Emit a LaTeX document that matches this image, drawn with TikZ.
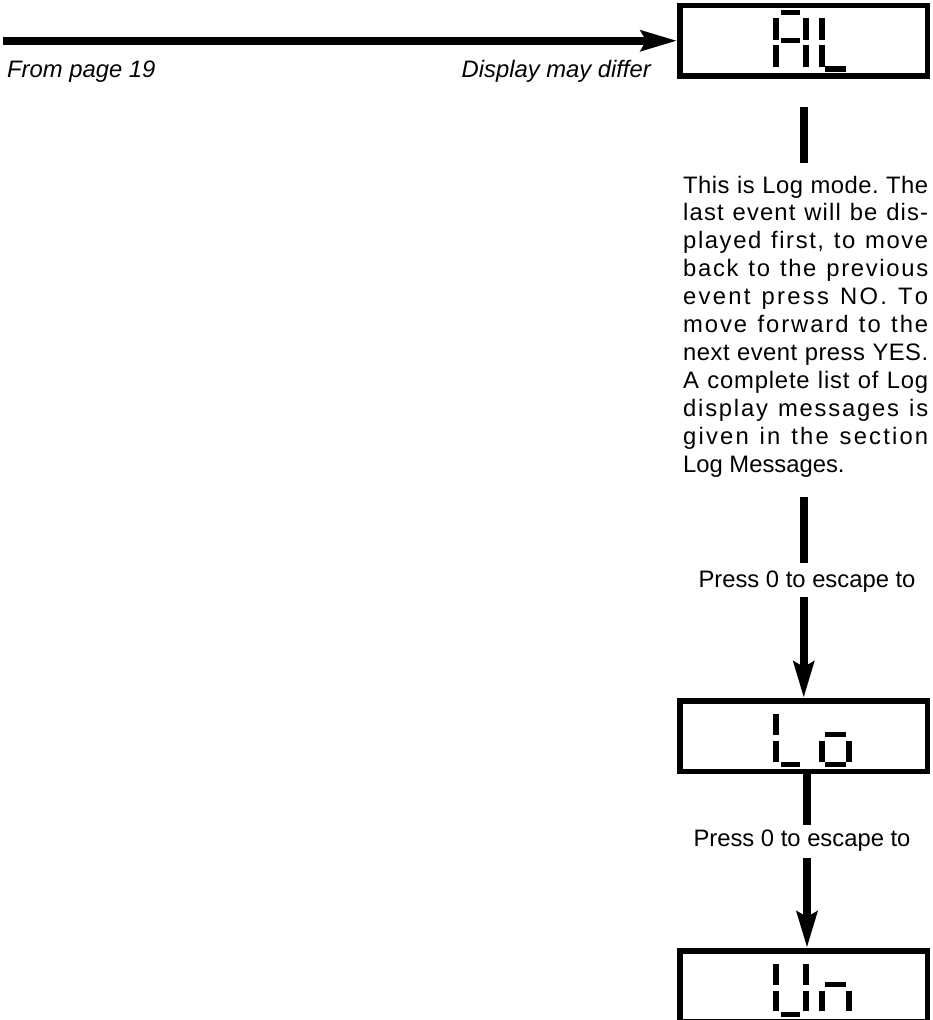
\documentclass[tikz,border=0pt]{standalone}
\usepackage{fontspec}
\setmainfont{Liberation Sans}
\usetikzlibrary{arrows.meta}
% letter tracking for justified text
\newXeTeXintercharclass\trkclass
\count255=33
\loop
  \XeTeXcharclass\count255=\trkclass
  \ifnum\count255<126 \advance\count255 by 1
\repeat
\XeTeXinterchartoks\trkclass\trkclass={\nobreak\hskip 0pt plus 1fil\relax}
\tikzset{
  dispbox/.style={draw, line width=5.5pt, minimum width=247.5pt, minimum height=70.5pt, inner sep=0pt},
  conn/.style={line width=8.5pt},
  arr/.style={line width=8.5pt, -{Stealth[length=36pt,width=20pt,inset=5pt]}},
  lbl/.style={font=\fontsize{23.8}{28}\selectfont, inner sep=0pt},
  ilbl/.style={font=\fontsize{23.8}{28}\selectfont\itshape, inner sep=0pt},
  seg/.style={fill=black},
}
\begin{document}
\begin{tikzpicture}[x=1pt,y=-1pt]
\useasboundingbox (0,0) rectangle (932,1020);
\begin{scope}
\clip (0,0) rectangle (932,1020);
% display boxes
\node[dispbox] (al) at (803.75,40.75) {};
\node[dispbox] (lo) at (803.75,736) {};
\node[dispbox] (un) at (803.75,986) {};
% ---- AL (T = 2.75) ----
\fill[seg] (780.5,10.25) rectangle (800,15.25);   % A top
\fill[seg] (773,18.25) rectangle (778.5,39.75);   % A upper left
\fill[seg] (803,18.25) rectangle (809,39.75);     % A upper right
\fill[seg] (780.5,37.75) rectangle (800,42.75);   % A middle
\fill[seg] (773,45.25) rectangle (778.5,66.75);   % A lower left
\fill[seg] (803,45.25) rectangle (809,66.75);     % A lower right
\fill[seg] (819,18.25) rectangle (824.7,39.75);   % L upper
\fill[seg] (819,45.25) rectangle (824.7,66.75);   % L lower
\fill[seg] (825,66.25) rectangle (846,71.75);     % L bottom
% ---- Lo (T = 698) ----
\fill[seg] (773,713.5) rectangle (778.5,735);     % L upper
\fill[seg] (773,740.5) rectangle (778.5,762);     % L lower
\fill[seg] (780.5,761.5) rectangle (800,767);     % L bottom
\fill[seg] (825,732) rectangle (846,737);         % o top
\fill[seg] (819,741) rectangle (824.7,762);       % o left
\fill[seg] (846,741) rectangle (851.7,762);       % o right
\fill[seg] (825,761.5) rectangle (846,767);       % o bottom
% ---- Un (T = 948) ----
\fill[seg] (773,963.5) rectangle (778.5,985);     % U upper left
\fill[seg] (773,990.5) rectangle (778.5,1011);    % U lower left
\fill[seg] (803,963.5) rectangle (809,985);       % U upper right
\fill[seg] (803,990.5) rectangle (809,1011);      % U lower right
\fill[seg] (780.5,1011.5) rectangle (800,1017);   % U bottom
\fill[seg] (825,982) rectangle (846,987);         % n top
\fill[seg] (819,990.5) rectangle (824.7,1011);    % n left
\fill[seg] (846,990.5) rectangle (851.7,1011);    % n right
\end{scope}
% ---- texts ----
\node[ilbl, anchor=base west] (from) at (7,77) {From page 19};
\node[ilbl, anchor=base east] (differ) at (651,77) {Display may differ};
\node[inner sep=0pt, anchor=base west, text width=245pt, align=justify,
      font=\fontsize{23.8}{27.9}\selectfont] (txt) at (683,193)
 {\hyphenpenalty=10000\tolerance=10000\pretolerance=-1\frenchspacing
  \spaceskip=\fontdimen2\font plus 2fil\relax
  \parfillskip=0pt plus 1fill\relax
  \XeTeXinterchartokenstate=1\relax
  This is Log mode. The\linebreak
  last event will be dis-\linebreak
  played first, to move\linebreak
  back to the previous\linebreak
  event press NO. To\linebreak
  move forward to the\linebreak
  next event press YES.\linebreak
  A complete list of Log\linebreak
  display messages is\linebreak
  given in the section\linebreak
  Log Messages.\par};
\node[lbl, anchor=base] (p1) at (807,587) {Press 0 to escape to};
\node[lbl, anchor=base] (p2) at (802,846) {Press 0 to escape to};
% ---- connectors ----
\coordinate (start) at (3,40.75);
\draw[arr] (start) -- (al.west);
\coordinate (c1a) at (804,107);
\coordinate (c1b) at (804,163);
\draw[conn] (c1a) -- (c1b);
\coordinate (c2a) at (804,497);
\coordinate (c2b) at (804,563);
\draw[conn] (c2a) -- (c2b);
\coordinate (c3a) at (803.75,597);
\draw[arr] (c3a) -- (lo.north);
\coordinate (c4b) at (807,825);
\draw[conn] (lo.south -| c4b) -- (c4b);
\coordinate (c5a) at (807,858);
\draw[arr] (c5a) -- (un.north -| c5a);
\end{tikzpicture}
\end{document}
